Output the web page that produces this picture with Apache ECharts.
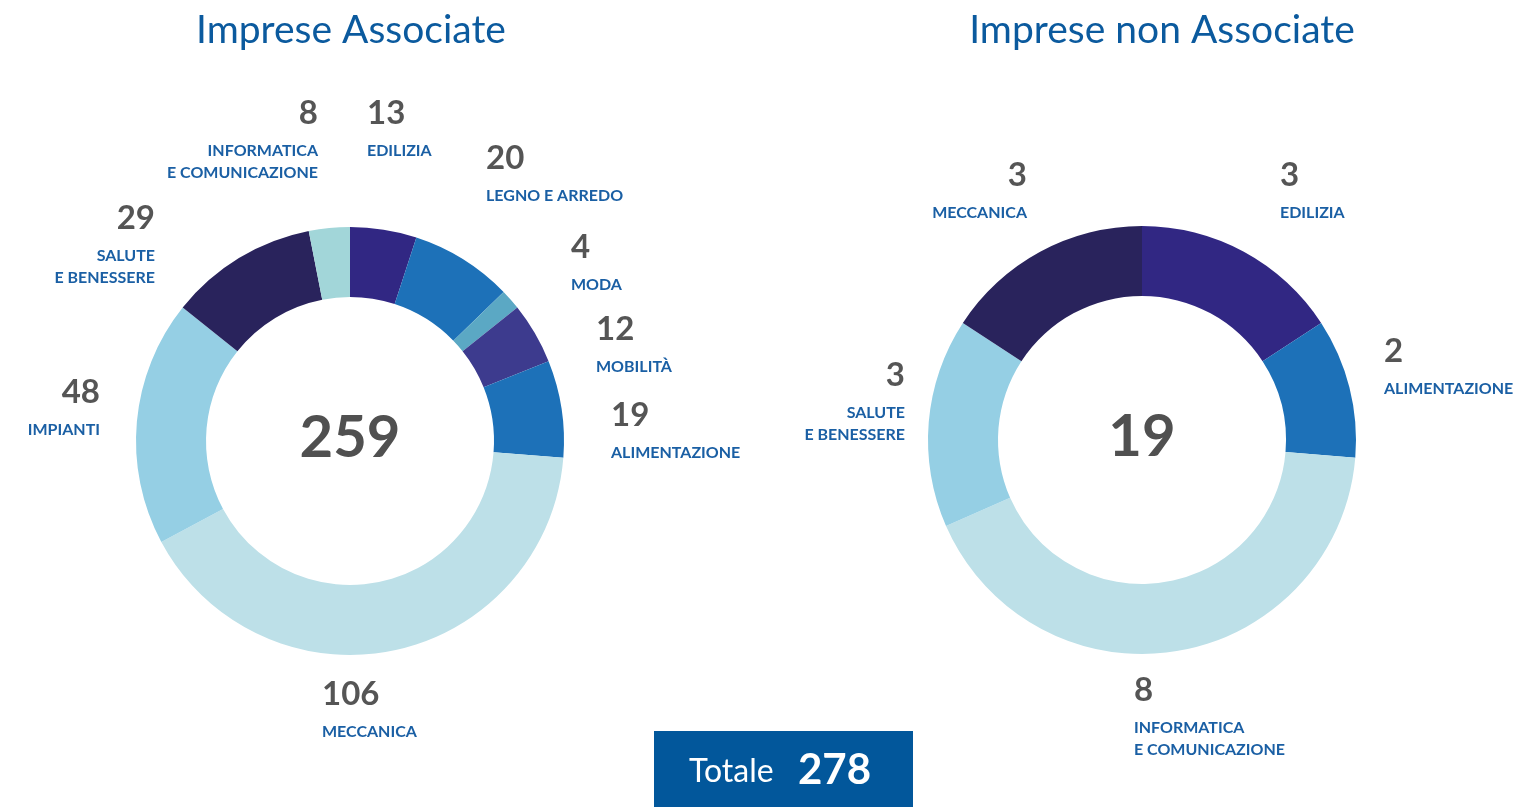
<!DOCTYPE html>
<html>
<head>
<meta charset="utf-8">
<script src="https://cdn.jsdelivr.net/npm/echarts@6/dist/echarts.min.js"></script>
<style>
  html, body { margin: 0; padding: 0; background: #fff; }
  #chart { width: 1519px; height: 807px; }
</style>
</head>
<body>
<div id="chart"></div>
<script>
// imprese associate
var assocNames = ['EDILIZIA', 'LEGNO E ARREDO', 'MODA', 'MOBILITÀ', 'ALIMENTAZIONE', 'MECCANICA', 'IMPIANTI', 'SALUTE\nE BENESSERE', 'INFORMATICA\nE COMUNICAZIONE'];
var assocValues = [13, 20, 4, 12, 19, 106, 48, 29, 8];
var assocColors = ['#312783', '#1d71b8', '#5ba8c4', '#3d3b8e', '#1d71b8', '#bde0e8', '#95cfe4', '#29235c', '#a2d6d9'];
// label anchor: x, top of the number, align
var assocLabelPos = [[367, 100, 'left'], [486, 145, 'left'], [571, 234, 'left'], [596, 316, 'left'], [611, 402, 'left'],
  [322, 681, 'left'], [100, 379, 'right'], [155, 205, 'right'], [318, 100, 'right']];

// imprese non associate
var nonNames = ['EDILIZIA', 'ALIMENTAZIONE', 'INFORMATICA\nE COMUNICAZIONE', 'SALUTE\nE BENESSERE', 'MECCANICA'];
var nonValues = [3, 2, 8, 3, 3];
var nonColors = ['#312783', '#1d71b8', '#bde0e8', '#95cfe4', '#29235c'];
var nonLabelPos = [[1280, 162, 'left'], [1384, 338, 'left'], [1134, 677, 'left'], [905, 362, 'right'], [1027, 162, 'right']];

var FONT = 'Lato, "Open Sans", sans-serif';
var TITLE_BLUE = '#0b5a9e';
var LABEL_BLUE = '#1a5fa4';
var GREY = '#555555';

function sum(arr) {
  var s = 0;
  for (var i = 0; i < arr.length; i++) s += arr[i];
  return s;
}

function buildData(names, values, colors) {
  var out = [];
  for (var i = 0; i < values.length; i++) {
    out.push({ name: names[i], value: values[i], itemStyle: { color: colors[i] } });
  }
  return out;
}

function pieSeries(center, names, values, colors, pos) {
  return {
    type: 'pie',
    center: center,
    radius: [144, 214],
    startAngle: 90,
    clockwise: true,
    avoidLabelOverlap: false,
    silent: true,
    data: buildData(names, values, colors),
    labelLine: { show: false },
    label: {
      show: true,
      position: 'outside',
      formatter: '{v|{c}}\n{n|{b}}',
      rich: {
        v: { fontFamily: FONT, fontWeight: 'bold', fontSize: 33, color: GREY, lineHeight: 54 },
        n: { fontFamily: FONT, fontWeight: 'bold', fontSize: 16, color: LABEL_BLUE, lineHeight: 22 }
      }
    },
    labelLayout: function (p) {
      var q = pos[p.dataIndex];
      return { x: q[0], y: q[1] - 14, align: q[2], verticalAlign: 'top' };
    }
  };
}

var chart = echarts.init(document.getElementById('chart'));
var assocTotal = sum(assocValues);
var nonTotal = sum(nonValues);

chart.setOption({
  animation: false,
  title: [
    { text: 'Imprese Associate', left: 346, top: 6, textAlign: 'center',
      textStyle: { fontFamily: FONT, fontWeight: 'normal', fontSize: 39, color: TITLE_BLUE } },
    { text: 'Imprese non Associate', left: 1157, top: 6, textAlign: 'center',
      textStyle: { fontFamily: FONT, fontWeight: 'normal', fontSize: 39, color: TITLE_BLUE } }
  ],
  graphic: [
    { type: 'text', x: 350, y: 438, style: { text: String(assocTotal), align: 'center', verticalAlign: 'middle',
      font: 'bold 58px ' + FONT, fill: '#505050' } },
    { type: 'text', x: 1142, y: 437, style: { text: String(nonTotal), align: 'center', verticalAlign: 'middle',
      font: 'bold 58px ' + FONT, fill: '#505050' } },
    { type: 'rect', left: 654, top: 731, shape: { width: 259, height: 80 }, style: { fill: '#02579b' } },
    { type: 'text', x: 689, y: 772, style: { text: 'Totale', verticalAlign: 'middle',
      font: '32px ' + FONT, fill: '#ffffff' } },
    { type: 'text', x: 798, y: 770, style: { text: String(assocTotal + nonTotal), verticalAlign: 'middle',
      font: 'bold 42px ' + FONT, fill: '#ffffff' } }
  ],
  series: [
    pieSeries([350, 441], assocNames, assocValues, assocColors, assocLabelPos),
    pieSeries([1142, 440], nonNames, nonValues, nonColors, nonLabelPos)
  ]
});
</script>
</body>
</html>
